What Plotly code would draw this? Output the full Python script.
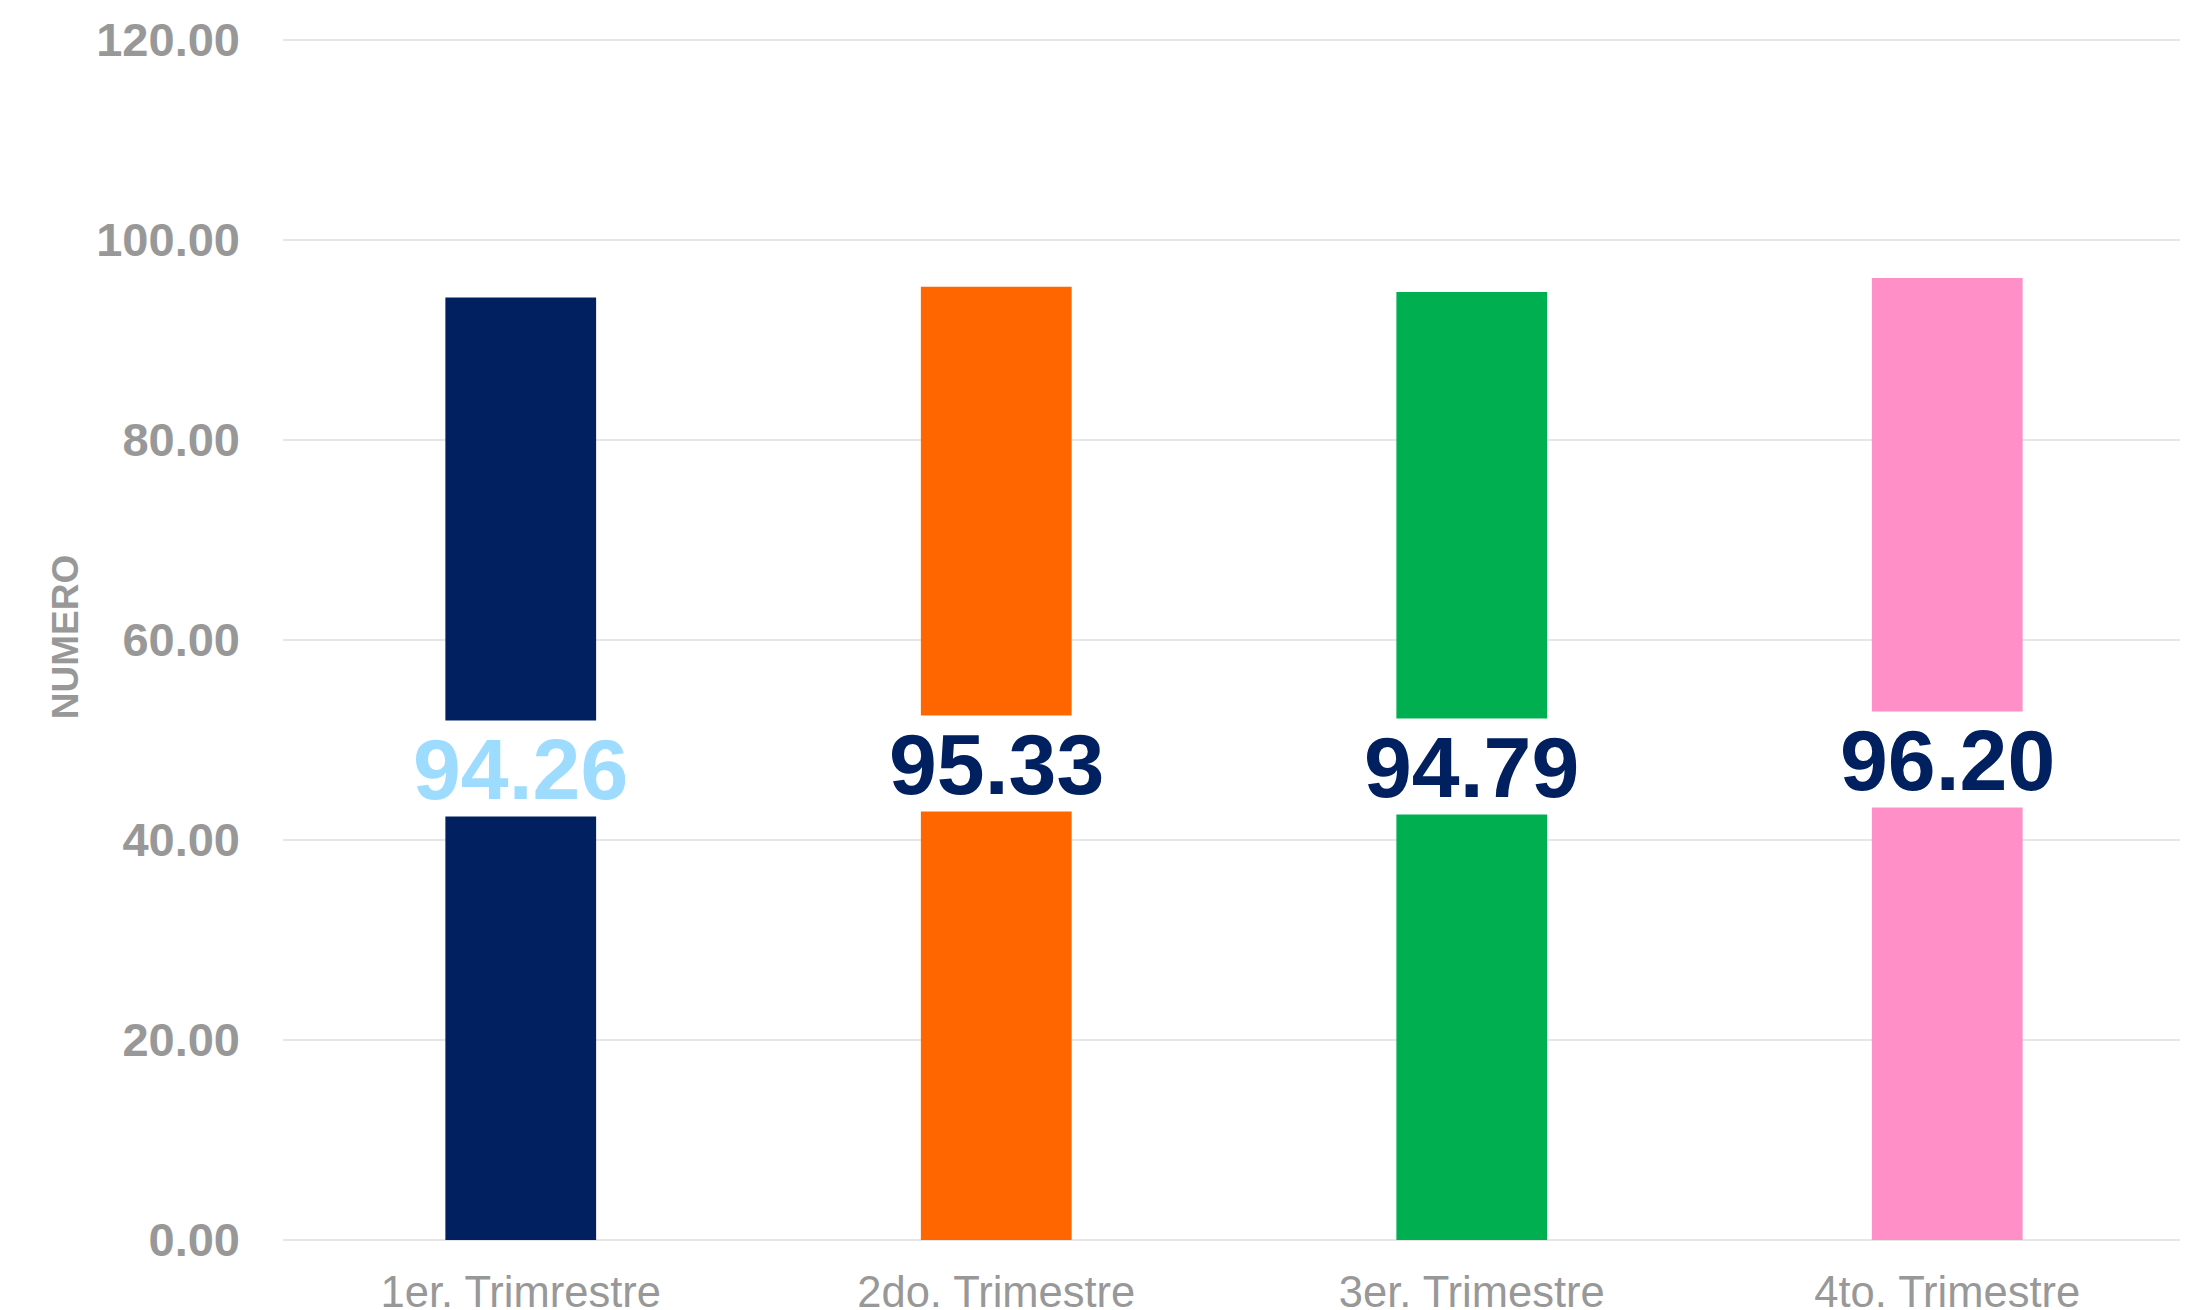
import plotly.graph_objects as go

categories = ["1er. Trimrestre", "2do. Trimestre", "3er. Trimestre", "4to. Trimestre"]
values = [94.26, 95.33, 94.79, 96.20]
bar_colors = ["#002060", "#FF6600", "#00B050", "#FF8FC7"]
label_colors = ["#9DDCFF", "#002060", "#002060", "#002060"]
y_ticks = [0, 20, 40, 60, 80, 100, 120]

FONT = "Arial, Liberation Sans, sans-serif"
GRAY = "#989898"
GRID = "#E6E6E6"

fig = go.Figure()

fig.add_trace(go.Bar(x=categories, y=values, marker=dict(color=bar_colors, line=dict(width=0)), width=0.317, hoverinfo="x+y"))

# value labels sit halfway up each bar on a white box
for cat, val, col in zip(categories, values, label_colors):
    fig.add_annotation(
        x=cat,
        y=val / 2,
        text="<b>{0:.2f}</b>".format(val),
        showarrow=False,
        font=dict(family=FONT, size=86, color=col),
        bgcolor="white",
        borderpad=0,
        height=95,
        valign="middle",
    )

fig.update_xaxes(
    tickfont=dict(family=FONT, size=43.5, color=GRAY),
    showgrid=False,
    showline=False,
    ticklabelstandoff=22,
    automargin=False,
)
# range goes a bit past 120 so the top grid line is still drawn
fig.update_yaxes(
    range=[0, 120.6],
    tickvals=y_ticks,
    tickformat=".2f",
    tickfont=dict(family=FONT, size=47, color=GRAY, weight="bold"),
    showgrid=True,
    gridcolor=GRID,
    gridwidth=2,
    zeroline=True,
    zerolinecolor=GRID,
    zerolinewidth=2,
    ticklabelstandoff=42,
    title=dict(text="<b>NUMERO</b>", font=dict(family=FONT, size=37, color=GRAY), standoff=6),
    automargin=False,
)

fig.update_layout(
    width=2188,
    height=1310,
    margin=dict(l=275, r=11, t=26, b=78),
    plot_bgcolor="white",
    paper_bgcolor="white",
    showlegend=False,
)

fig.write_html("out.html")
